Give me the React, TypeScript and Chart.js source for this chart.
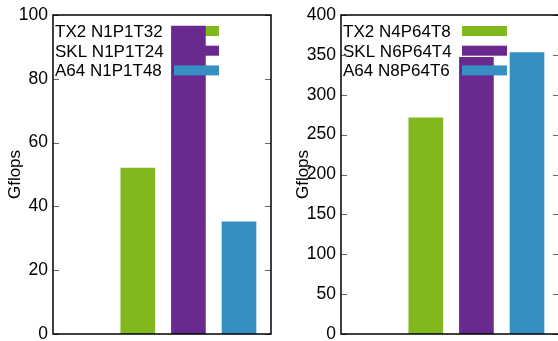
import React, { useEffect, useRef } from "react";
import { Chart, registerables } from "chart.js";

Chart.register(...registerables);

// ---- data ----
const barPositions = [1, 2, 3];
const leftLabels = ["TX2 N1P1T32", "SKL N1P1T24", "A64 N1P1T48"];
const leftValues = [52.0, 96.5, 35.2];
const rightLabels = ["TX2 N4P64T8", "SKL N6P64T4", "A64 N8P64T6"];
const rightValues = [271, 347, 353];
const leftMax = 100;
const leftStep = 20;
const rightMax = 400;
const rightStep = 50;
const yTitle = "Gflops";
const seriesColors = ["#81b91d", "#6a298e", "#358fc3"];

const FONT = "'Liberation Sans', Arial, sans-serif";

const gnuplotPlugin = {
  id: "gnuplotFrame",
  beforeDatasetDraw(chart: any, args: any) {
    const { ctx, chartArea: a } = chart;
    const ds = chart.data.datasets[args.index];
    const cy = a.top + 16 + args.index * 19.7;
    ctx.save();
    ctx.fillStyle = "#000";
    ctx.font = `17px ${FONT}`;
    ctx.textAlign = "left";
    ctx.textBaseline = "alphabetic";
    ctx.fillText(ds.label, a.left + 2, cy + 6);
    ctx.fillStyle = ds.backgroundColor;
    ctx.fillRect(a.left + 121, cy - 5, 45, 10);
    ctx.restore();
  },
  afterDatasetsDraw(chart: any) {
    const { ctx, chartArea: a, scales } = chart;
    const y = scales.y;
    ctx.save();
    ctx.strokeStyle = "#666";
    ctx.lineWidth = 1;
    y.ticks.forEach((t: any) => {
      const py = Math.round(y.getPixelForValue(t.value)) + 0.5;
      ctx.beginPath();
      ctx.moveTo(a.left, py);
      ctx.lineTo(a.left + 6, py);
      ctx.moveTo(a.right, py);
      ctx.lineTo(a.right - 6, py);
      ctx.stroke();
    });
    ctx.strokeStyle = "#000";
    ctx.lineWidth = 1.5;
    ctx.strokeRect(a.left, a.top, a.right - a.left, a.bottom - a.top);
    ctx.restore();
  },
};

function Panel({ labels, values, max, step, left }: any) {
  const ref = useRef<HTMLCanvasElement>(null);
  useEffect(() => {
    if (!ref.current) return;
    const chart = new Chart(ref.current, {
      type: "bar",
      data: {
        datasets: labels.map((lab: string, i: number) => ({
          label: lab,
          data: [{ x: barPositions[i], y: values[i] }],
          backgroundColor: seriesColors[i],
          borderWidth: 0,
          barThickness: 34,
          grouped: false,
          order: labels.length - 1 - i,
        })),
      },
      options: {
        animation: false,
        responsive: false,
        events: [],
        layout: { padding: { top: 15, bottom: 7, left: 0, right: 8 } },
        plugins: { legend: { display: false }, tooltip: { enabled: false } },
        scales: {
          x: {
            type: "linear",
            min: -0.676,
            max: 3.632,
            offset: false,
            display: false,
          },
          y: {
            min: 0,
            max,
            ticks: {
              stepSize: step,
              color: "#000",
              padding: 5,
              font: { family: FONT, size: 17.5 },
            },
            grid: { display: false, drawTicks: false },
            border: { display: false },
            title: {
              display: true,
              text: yTitle,
              color: "#000",
              font: { family: FONT, size: 17 },
              padding: { top: 5, bottom: 0 },
            },
            afterFit: (s: any) => {
              s.width = 53;
              s.paddingTop = 0;
              s.paddingBottom = 0;
            },
          },
        },
      },
      plugins: [gnuplotPlugin],
    } as any);
    return () => chart.destroy();
  }, []);
  return (
    <canvas
      ref={ref}
      width={279}
      height={341}
      style={{ position: "absolute", left, top: 0, width: 279, height: 341 }}
    />
  );
}

export default function App() {
  return (
    <div
      style={{
        position: "fixed",
        left: 0,
        top: 0,
        width: 558,
        height: 341,
        overflow: "hidden",
        background: "#fff",
      }}
    >
      <Panel labels={leftLabels} values={leftValues} max={leftMax} step={leftStep} left={0} />
      <Panel labels={rightLabels} values={rightValues} max={rightMax} step={rightStep} left={288} />
    </div>
  );
}
